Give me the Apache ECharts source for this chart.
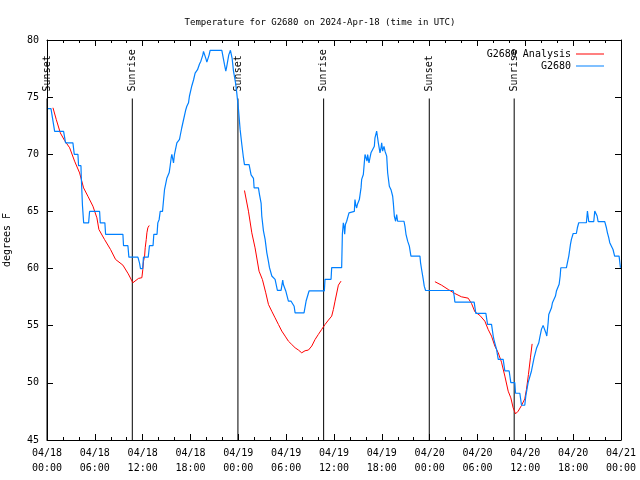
<!DOCTYPE html>
<html>
<head>
<meta charset="utf-8">
<script src="https://cdn.jsdelivr.net/npm/echarts@6/dist/echarts.min.js"></script>
<style>html,body{margin:0;padding:0;background:#fff}#c{width:640px;height:480px}</style>
</head>
<body>
<div id="c"></div>
<script>
// ---- data (hours since 2024-04-18 00:00 UTC) ----
const xTickLabels = ['04/18\n00:00','04/18\n06:00','04/18\n12:00','04/18\n18:00','04/19\n00:00','04/19\n06:00','04/19\n12:00','04/19\n18:00','04/20\n00:00','04/20\n06:00','04/20\n12:00','04/20\n18:00','04/21\n00:00'];

const blueHours = [0.12,0.5,0.96,2.08,2.33,3.25,3.42,3.88,3.96,4.26,4.3,4.45,4.6,5.22,5.34,6.6,6.68,7.26,7.35,9.52,9.6,10.15,10.27,11.4,11.6,11.73,12.0,12.1,12.7,12.85,13.3,13.4,13.8,13.9,14.07,14.2,14.49,14.62,14.74,14.9,15.03,15.33,15.45,15.58,15.66,15.74,15.87,15.99,16.29,16.62,16.7,16.9,17.12,17.41,17.54,17.75,17.87,18.04,18.17,18.38,18.58,18.88,19.13,19.3,19.55,19.63,19.75,19.96,20.05,20.25,20.34,20.46,21.93,22.14,22.26,22.43,22.55,22.8,23.01,23.22,23.39,23.64,23.8,24.01,24.22,24.43,24.64,24.77,25.35,25.6,25.9,25.98,26.52,26.65,26.86,26.94,27.15,27.36,27.57,27.78,27.9,28.2,28.61,28.9,29.36,29.57,29.65,29.95,30.28,30.6,31.0,31.12,32.24,32.5,32.87,34.79,34.87,35.63,35.71,36.96,37.05,37.17,37.26,37.34,37.43,37.59,37.88,38.0,38.55,38.63,38.72,38.84,38.93,39.18,39.39,39.47,39.68,39.8,39.89,40.01,40.14,40.22,40.39,40.51,40.64,40.85,41.06,41.14,41.35,41.43,41.56,41.77,41.9,41.98,42.1,42.27,42.4,42.61,42.73,42.94,43.15,43.36,43.44,43.57,43.73,43.86,43.98,44.78,44.9,45.03,45.24,45.45,45.65,46.78,46.86,46.99,47.2,47.32,47.49,50.95,51.08,51.16,53.58,53.79,55.05,55.26,55.76,55.97,56.1,56.39,56.6,57.22,57.43,57.97,58.18,58.68,58.77,59.31,59.52,59.93,60.06,60.35,60.77,61.1,61.4,61.69,61.81,62.02,62.23,62.44,62.57,62.69,62.86,62.94,63.28,63.4,63.78,63.9,64.24,64.37,64.45,65.15,65.28,65.45,65.66,65.78,66.0,66.4,66.53,66.7,67.66,67.79,67.96,68.58,68.71,68.83,69.0,69.13,69.96,70.17,70.3,70.46,70.59,70.8,71.0,71.2,71.76,71.93,72.0];
const blueTemps = [74,74,72,72,71,71,70,70,69,69,68,65.5,64,64,65,65,64,64,63,63,62,62,61,61,60.5,60,60,61,61,62,62,63,63,64,64.3,65,65,66,66.9,67.06,67.9,68.4,69,69.7,70,70,69.25,70,71,71.3,71.6,72.3,73,73.9,74.2,74.5,75.1,75.15,76,76.5,77.1,77.4,77.9,78.15,78.7,79,79.1,78.3,78.06,78.15,78.7,79.1,79.1,78.3,77.86,77.28,77.7,78.7,79.1,78.4,77.3,76.3,75.4,74,72.2,70.9,69.7,69.1,69.1,68.2,67.9,67.06,67.06,66.5,65.7,64.6,63.3,62.55,61.4,60.6,60.1,59.35,59.06,58.1,58.1,59,58.6,58.04,57.16,57.16,56.7,56.13,56.13,57.16,58.04,58.04,59.06,59.06,60.08,60.08,63,64,63.7,63,63.85,64.14,64.87,65,65,66.04,65.6,65.3,65.6,66.04,67.06,67.8,68.23,69.25,69.98,70.12,69.4,69.98,69.25,69.69,70.13,70.13,70.7,71.44,72.02,72.02,71,70.13,70.57,71,70.27,70.7,70.27,69.84,68.38,67.2,66.9,66.33,65.75,64.58,64.14,64.73,64.14,64.14,63.7,63,62.4,61.96,61.09,61.09,60.5,59.92,59.04,58.46,58.08,58.08,57.59,57.07,57.07,56.08,56.08,55.12,55.12,54.1,53.66,52.93,52.06,52.06,51.04,51.04,50.02,50.02,49.09,49.09,48.04,48.04,48.86,50.02,51.04,52.2,53.02,53.51,53.95,54.68,55.03,55.03,54.39,54.1,55.26,55.99,56.57,57.01,57.59,58.03,58.62,59.35,60.07,60.07,60.51,61.09,62.11,62.55,63.07,63.07,63.57,64.01,64.01,65.03,64.1,64.1,65.03,65.09,64.6,64.1,64.1,63.57,63.13,62.7,62.26,61.96,61.67,61.09,61.09,60.07,60.07];

// analysis series, null marks a gap between runs
const redHours = [0.75,1.16,1.67,2.21,2.84,3.46,4.09,4.59,5.13,5.76,6.26,6.51,7.22,7.97,8.6,9.52,10.19,10.77,11.48,11.9,12.02,12.11,12.24,12.32,12.45,12.53,12.65,12.82,null,
  24.77,25.27,25.69,26.1,26.6,27.02,27.44,27.78,28.19,28.61,29.03,29.45,29.87,30.28,30.7,31.12,31.54,31.95,32.37,32.79,33.21,33.63,34.04,34.46,34.88,35.3,35.71,35.92,36.13,36.55,36.88,null,
  48.66,49.49,50.33,51.16,51.99,52.83,53.25,53.67,54.3,54.92,55.34,55.76,56.18,56.6,57.01,57.43,57.85,58.18,58.47,58.77,59.1,59.52,59.93,60.14,60.39,60.64,60.85];
const redTemps = [74.07,73.05,71.87,71.2,70.57,69.4,68.37,67.06,66.33,65.46,64.44,63.42,62.54,61.67,60.8,60.3,59.54,58.76,59.14,59.2,59.92,60.65,61.09,61.82,62.55,63.13,63.57,63.77,null,
  66.83,65.02,63.13,61.81,59.77,59.04,57.88,56.86,56.27,55.69,55.11,54.53,54.09,53.65,53.36,53.07,52.87,52.63,52.81,52.87,53.22,53.8,54.24,54.68,55.11,55.49,55.84,56.42,57.15,58.55,58.9,null,
  58.85,58.55,58.17,57.82,57.53,57.41,56.95,56.22,55.9,55.4,54.67,54.09,53.21,52.63,51.81,50.59,49.27,48.69,47.82,47.29,47.52,48.02,48.6,49.42,50.73,52.19,53.41];

const sunHours = [0, 10.7, 23.95, 34.7, 47.95, 58.6];
const sunLabels = ['Sunset','Sunrise','Sunset','Sunrise','Sunset','Sunrise'];

// ---- chart ----
const FONT = 'DejaVu Sans Mono';
const Y_MIN = 45, Y_MAX = 80;
const SUN_LINE_TOP = 74.88;   // line ends ~85% of plot height
const SUN_LABEL_BASE = 75.5;

const blueData = blueHours.map((h, i) => [h, blueTemps[i]]);
const redData = redHours.map((h, i) => [h, redTemps[i]]);
const sunLineData = [];
sunHours.forEach(h => { sunLineData.push([h, Y_MIN], [h, SUN_LINE_TOP], [null, null]); });
const sunLabelData = sunHours.map((h, i) => [h, SUN_LABEL_BASE, sunLabels[i]]);

const axisCommon = {
  type: 'value', min: 0, max: 72, interval: 6,
  axisLine: { show: true, onZero: false, lineStyle: { color: '#000', width: 1 } },
  axisTick: { show: true, inside: true, length: 6, lineStyle: { color: '#000' } },
  minorTick: { show: true, splitNumber: 3, length: 3, lineStyle: { color: '#000' } },
  splitLine: { show: false },
};
const yCommon = {
  type: 'value', min: Y_MIN, max: Y_MAX, interval: 5,
  axisLine: { show: true, onZero: false, lineStyle: { color: '#000', width: 1 } },
  axisTick: { show: true, inside: true, length: 6, lineStyle: { color: '#000' } },
  splitLine: { show: false },
};

const chart = echarts.init(document.getElementById('c'), null, { renderer: 'canvas' });
chart.setOption({
  animation: false,
  backgroundColor: '#fff',
  title: {
    text: 'Temperature for G2680 on 2024-Apr-18 (time in UTC)',
    left: 'center', top: 13,
    textStyle: { fontFamily: FONT, fontSize: 9, fontWeight: 'normal', color: '#000' }
  },
  legend: {
    data: ['G2680 Analysis', 'G2680'],
    orient: 'vertical', right: 31, top: 44, align: 'right',
    itemWidth: 28, itemHeight: 1, itemGap: 2, icon: 'rect',
    textStyle: { fontFamily: FONT, fontSize: 10, color: '#000' }
  },
  grid: { left: 47, right: 19, top: 40, bottom: 40, containLabel: false, outerBoundsMode: 'none' },
  xAxis: [
    Object.assign({}, axisCommon, {
      position: 'bottom',
      axisLabel: {
        fontFamily: FONT, fontSize: 10, color: '#000', lineHeight: 15, margin: 6,
        formatter: v => xTickLabels[Math.round(v / 6)]
      }
    }),
    Object.assign({}, axisCommon, { position: 'top', axisLabel: { show: false } })
  ],
  yAxis: [
    Object.assign({}, yCommon, {
      position: 'left',
      name: 'degrees F', nameLocation: 'middle', nameGap: 35, nameRotate: 90,
      nameTextStyle: { fontFamily: FONT, fontSize: 10, color: '#000' },
      axisLabel: { fontFamily: FONT, fontSize: 10, color: '#000', margin: 8 }
    }),
    Object.assign({}, yCommon, { position: 'right', axisLabel: { show: false } })
  ],
  series: [
    {
      name: 'sun', type: 'line', data: sunLineData, symbol: 'none', silent: true,
      connectNulls: false, lineStyle: { color: '#000', width: 1 }, z: 1
    },
    {
      name: 'sunLabels', type: 'scatter', data: sunLabelData, symbolSize: 2,
      itemStyle: { color: 'rgba(0,0,0,0)', opacity: 1 }, silent: true, z: 1, clip: false,
      label: {
        show: true, position: 'inside', rotate: 90, align: 'left', verticalAlign: 'middle',
        fontFamily: FONT, fontSize: 10, color: '#000', opacity: 1,
        formatter: p => p.value[2]
      },
      labelLayout: { hideOverlap: false }
    },
    {
      name: 'G2680 Analysis', type: 'line', data: redData, symbol: 'none',
      connectNulls: false, lineStyle: { color: '#ff0000', width: 1 }, itemStyle: { color: '#ff0000' }, z: 2
    },
    {
      name: 'G2680', type: 'line', data: blueData, symbol: 'none',
      lineStyle: { color: '#0080ff', width: 1.2 }, itemStyle: { color: '#0080ff' }, z: 3
    }
  ]
});
</script>
</body>
</html>
